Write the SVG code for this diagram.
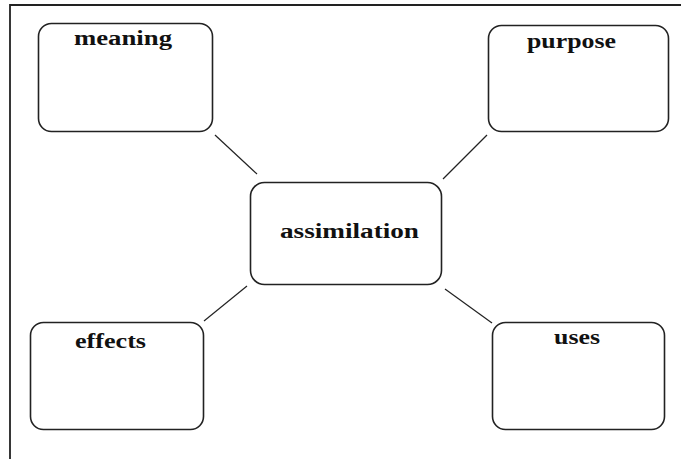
<svg xmlns="http://www.w3.org/2000/svg" width="681" height="459" viewBox="0 0 681 459">
<style>
.box{fill:#fff;stroke:#222;stroke-width:1.6}
.lbl{font-family:"Liberation Serif","Times New Roman",serif;font-weight:bold;font-size:20px;fill:#111}
.conn line{stroke:#222;stroke-width:1.2}
</style>
<rect width="681" height="459" fill="#fff"/>
<path d="M10,459 V5 H681" fill="none" stroke="#222" stroke-width="1.8"/>
<g class="conn" id="connectors">
<line x1="215" y1="135" x2="257" y2="174"/>
<line x1="487" y1="135" x2="443" y2="179"/>
<line x1="247" y1="286" x2="204" y2="321"/>
<line x1="445" y1="289" x2="492" y2="323"/>
</g>
<g id="meaning">
<rect class="box" x="38.5" y="23.5" width="174" height="108" rx="13"/>
<text class="lbl" x="74" y="45" textLength="98" lengthAdjust="spacingAndGlyphs">meaning</text>
</g>
<g id="purpose">
<rect class="box" x="488.5" y="25.5" width="180" height="106" rx="13"/>
<text class="lbl" x="527" y="48" textLength="89" lengthAdjust="spacingAndGlyphs">purpose</text>
</g>
<g id="assimilation">
<rect class="box" x="250.5" y="182.5" width="191" height="102" rx="14"/>
<text class="lbl" x="280" y="238" textLength="139" lengthAdjust="spacingAndGlyphs">assimilation</text>
</g>
<g id="effects">
<rect class="box" x="30.5" y="322.5" width="173" height="107" rx="13"/>
<text class="lbl" x="75" y="348" textLength="71" lengthAdjust="spacingAndGlyphs">effects</text>
</g>
<g id="uses">
<rect class="box" x="492.5" y="322.5" width="172" height="107" rx="13"/>
<text class="lbl" x="554" y="344" textLength="46" lengthAdjust="spacingAndGlyphs">uses</text>
</g>
</svg>
